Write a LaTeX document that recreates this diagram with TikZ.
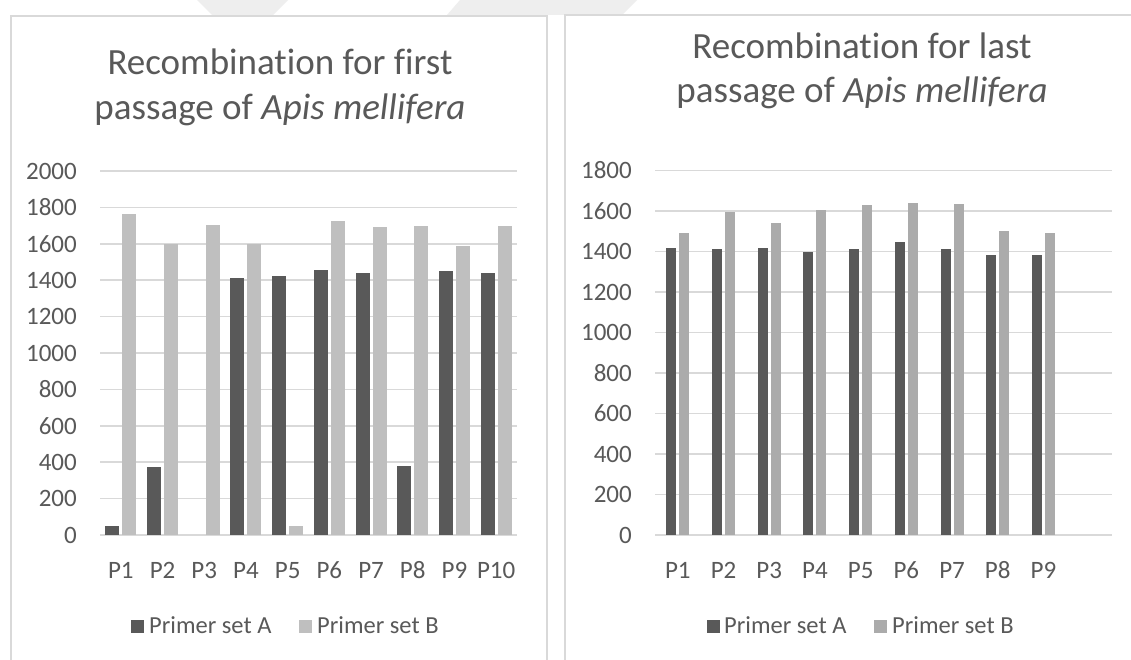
\documentclass[tikz,border=0pt]{standalone}
\usepackage{fontspec}
\setmainfont{Carlito}[Ligatures=NoCommon]
\definecolor{txt}{HTML}{595959}
\definecolor{gridc}{HTML}{D9D9D9}
\definecolor{barA}{HTML}{595959}
\definecolor{barBl}{HTML}{BFBFBF}
\definecolor{barBr}{HTML}{ABABAB}
\definecolor{wmark}{HTML}{EEEEEE}

\begin{document}
\begin{tikzpicture}[x=1pt,y=-1pt,
  ticklbl/.style={text=txt,font=\fontsize{25}{25}\selectfont,inner sep=0pt},
  lgd/.style={text=txt,font=\fontsize{24.5}{24.5}\selectfont,inner sep=0pt,anchor=base west},
  ttl/.style={text=txt,font=\fontsize{37}{44}\selectfont,inner sep=0pt,anchor=base},
  gridln/.style={draw=gridc,line width=1.5pt},
  panel/.style={draw=gridc,line width=1.5pt},
]
\useasboundingbox (0,0) rectangle (1131,660);
\fill[white] (0,0) rectangle (1131,660);

% faint mark along the top margin
\fill[wmark] (197,0) -- (288,0) -- (273,15) -- (212,15) -- cycle;
\fill[wmark] (460,0) -- (637,0) -- (622,15) -- (447,15) -- cycle;

% ---------- left chart ----------
\draw[panel] (11,670) -- (11,16) -- (547,16) -- (547,670);
\node[ttl] (tl1) at (280,75) {Recombination for first};
\node[ttl] (tl2) at (280,120) {passage of \textit{Apis mellifera}};

\foreach \v in {0,200,...,2000}{
  \draw[gridln] (100,{535-\v*0.182}) -- (517,{535-\v*0.182});
  \node[ticklbl,anchor=east] (ly\v) at (77,{535-\v*0.182}) {\v};
}
\foreach \i/\a/\b in {1/50/1765,2/375/1600,3/0/1705,4/1410/1600,5/1425/50,
                      6/1455/1725,7/1440/1690,8/380/1695,9/1450/1590,10/1440/1695}{
  \pgfmathsetmacro{\c}{100+(\i-0.5)*41.7}
  \ifnum\a>0 \fill[barA] (\c-15.5,535) rectangle (\c-1.5,{535-\a*0.182}); \fi
  \fill[barBl] (\c+1.5,535) rectangle (\c+15.5,{535-\b*0.182});
  \node[ticklbl,anchor=base] (lx\i) at (\c,578) {P\i};
}
\fill[barA] (131,620) rectangle (144,633);
\node[lgd] (lla) at (149,633.5) {Primer set A};
\fill[barBl] (299,620) rectangle (312,633);
\node[lgd] (llb) at (317,633.5) {Primer set B};

% ---------- right chart ----------
\draw[panel] (565,670) -- (565,15) -- (1140,15);
\node[ttl] (tr1) at (862,59) {Recombination for last};
\node[ttl] (tr2) at (862,103) {passage of \textit{Apis mellifera}};

\foreach \v in {0,200,...,1800}{
  \draw[gridln] (655,{535-\v*0.2025}) -- (1112,{535-\v*0.2025});
  \node[ticklbl,anchor=east] (ry\v) at (632,{535-\v*0.2025}) {\v};
}
\foreach \i/\a/\b in {1/1415/1490,2/1410/1595,3/1415/1540,4/1398/1605,5/1410/1628,
                      6/1445/1640,7/1410/1635,8/1383/1500,9/1383/1490}{
  \pgfmathsetmacro{\c}{655+(\i-0.5)*45.7}
  \fill[barA] (\c-11.5,535) rectangle (\c-1.5,{535-\a*0.2025});
  \fill[barBr] (\c+1.5,535) rectangle (\c+11.5,{535-\b*0.2025});
  \node[ticklbl,anchor=base] (rx\i) at (\c,578) {P\i};
}
\fill[barA] (707,620) rectangle (720,633);
\node[lgd] (rla) at (724,633.5) {Primer set A};
\fill[barBr] (874,620) rectangle (887,633);
\node[lgd] (rlb) at (892,633.5) {Primer set B};
\end{tikzpicture}
\end{document}
